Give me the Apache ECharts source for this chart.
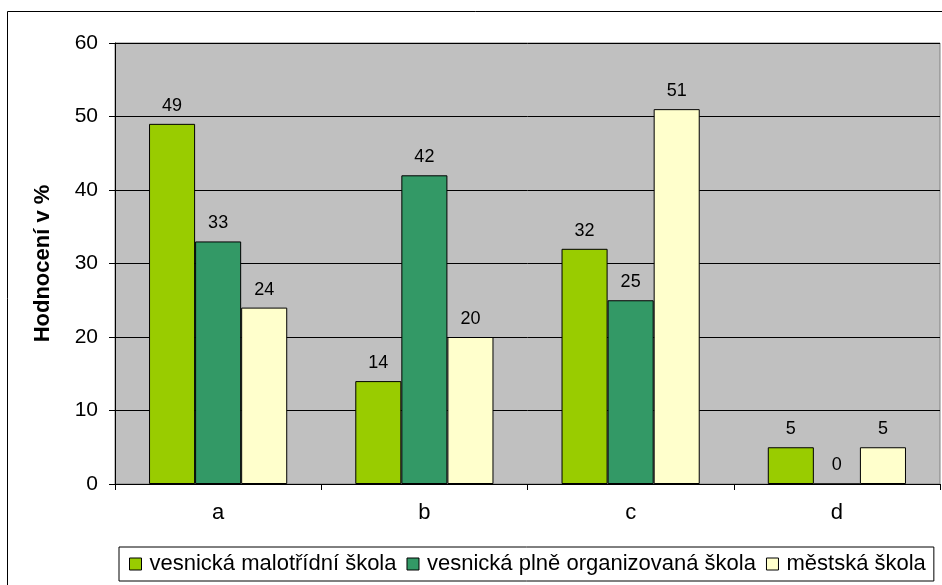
<!DOCTYPE html>
<html>
<head>
<meta charset="utf-8">
<script src="https://cdn.jsdelivr.net/npm/echarts@6/dist/echarts.min.js"></script>
<style>
  html, body { margin: 0; padding: 0; background: #fff; }
  #chart { width: 942px; height: 585px; }
</style>
</head>
<body>
<div id="chart"></div>
<script>
// data
const categories = ["a", "b", "c", "d"];
const seriesNames = [
  "vesnická malotřídní škola",
  "vesnická plně organizovaná škola",
  "městská škola",
];
const malotridni = [49, 14, 32, 5];
const plneOrg = [33, 42, 25, 0];
const mestska = [24, 20, 51, 5];
const colors = ["#99CC00", "#339966", "#FFFFCC"];

const chart = echarts.init(document.getElementById("chart"));

const makeSeries = (name, data, color) => ({
  name: name,
  type: "bar",
  data: data,
  barGap: "0%",
  barCategoryGap: "33%",
  itemStyle: { color: color, borderColor: "#000", borderWidth: 1 },
  label: {
    show: true,
    position: "top",
    distance: 9,
    color: "#000",
    fontFamily: "Liberation Sans",
    fontSize: 18,
  },
});

const option = {
  animation: false,
  textStyle: { fontFamily: "Liberation Sans" },
  graphic: [
    {
      // outer chart frame
      type: "rect",
      shape: { x: 7.5, y: 11.5, width: 940, height: 580 },
      style: { fill: "none", stroke: "#000", lineWidth: 1 },
      z: -10,
    },
  ],
  grid: {
    left: 115,
    top: 43,
    right: 2,
    bottom: 101,
    show: true,
    backgroundColor: "#C0C0C0",
    borderColor: "#808080",
    borderWidth: 1,
  },
  legend: {
    left: 119,
    top: 547,
    itemGap: 10,
    itemWidth: 12,
    itemHeight: 12,
    padding: [6, 8, 6, 10],
    borderColor: "#000",
    borderWidth: 1,
    borderRadius: 0,
    icon: "rect",
    textStyle: {
      color: "#000",
      fontSize: 22,
      fontFamily: "Liberation Sans",
      padding: [0, 0, 0, 3],
    },
    data: seriesNames.map((n) => ({
      name: n,
      itemStyle: { borderColor: "#000", borderWidth: 1 },
    })),
  },
  xAxis: {
    type: "category",
    data: categories,
    axisLine: { show: true, lineStyle: { color: "#000" } },
    axisTick: { show: true, length: 6, lineStyle: { color: "#000" } },
    axisLabel: { color: "#000", fontSize: 22, margin: 18 },
  },
  yAxis: {
    type: "value",
    min: 0,
    max: 60,
    interval: 10,
    name: "Hodnocení v %",
    nameLocation: "middle",
    nameGap: 61,
    nameTextStyle: { color: "#000", fontSize: 22, fontWeight: "bold" },
    axisLine: { show: true, lineStyle: { color: "#000" } },
    axisTick: { show: true, length: 6, lineStyle: { color: "#000" } },
    axisLabel: { color: "#000", fontSize: 21, margin: 17 },
    splitLine: { show: true, lineStyle: { color: "#000", width: 1 } },
  },
  series: [
    makeSeries(seriesNames[0], malotridni, colors[0]),
    makeSeries(seriesNames[1], plneOrg, colors[1]),
    makeSeries(seriesNames[2], mestska, colors[2]),
  ],
};

chart.setOption(option);
</script>
</body>
</html>
